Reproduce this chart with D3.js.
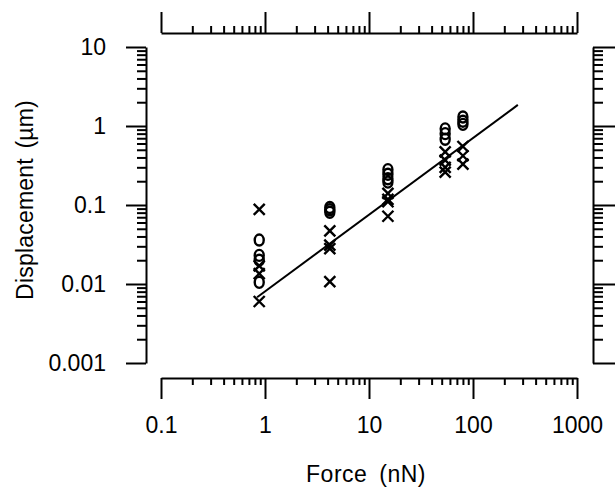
<!DOCTYPE html>
<html>
<head>
<meta charset="utf-8">
<script src="https://cdn.jsdelivr.net/npm/d3@7"></script>
<style>
    body { margin: 0; background: #fff; }
    svg { display: block; }
    text { font-family: "Liberation Sans", Arial, sans-serif; font-size: 23px; fill: #000; }
    .domain, .tick line { stroke: #000; stroke-width: 2; }
</style>
</head>
<body>
<script>
// data: force (nN) columns, displacement (um)
var forces = [0.88, 4.2, 15.2, 54, 80];
var circleDisp = [
    [0.036, 0.023, 0.020, 0.0105],
    [0.093, 0.087, 0.081],
    [0.28, 0.245, 0.215, 0.195],
    [0.92, 0.8, 0.68],
    [1.3, 1.15, 1.05]
];
var crossDisp = [
    [0.088, 0.017, 0.0135, 0.006],
    [0.047, 0.031, 0.028, 0.0107],
    [0.14, 0.118, 0.11, 0.072],
    [0.47, 0.37, 0.3, 0.26],
    [0.55, 0.42, 0.33]
];
var fitForce = [0.84, 270];
var fitDisp = [0.0068, 1.85];
var xTicks = [0.1, 1, 10, 100, 1000];
var xTickLabels = ["0.1", "1", "10", "100", "1000"];
var yTicks = [0.001, 0.01, 0.1, 1, 10];
var yTickLabels = ["0.001", "0.01", "0.1", "1", "10"];

(function() {
    var width = 615, height = 487;

    var svg = d3.select("body").append("svg")
        .attr("width", width)
        .attr("height", height);

    var x = d3.scaleLog().domain([0.1, 1000]).range([161, 577]);
    var y = d3.scaleLog().domain([0.001, 10]).range([363, 47]);

    function minors(lo, hi) {
        var out = [];
        for (var p = lo; p < hi; p *= 10) {
            for (var m = 2; m < 10; m++) out.push(p * m);
        }
        return out;
    }
    var xMinor = minors(0.1, 1000);
    var yMinor = minors(0.001, 10);

    // bottom axis
    var bottom = svg.append("g").attr("transform", "translate(0,378)");
    bottom.call(d3.axisBottom(x).tickValues(xTicks).tickSize(21).tickSizeOuter(0).tickPadding(18)
        .tickFormat(function(d, i) { return xTickLabels[i]; }));
    bottom.append("g").call(d3.axisBottom(x).tickValues(xMinor).tickSize(7).tickFormat(""))
        .select(".domain").remove();

    // top axis
    var top = svg.append("g").attr("transform", "translate(0,33)");
    top.call(d3.axisTop(x).tickValues(xTicks).tickSize(21).tickSizeOuter(0).tickFormat(""));
    top.append("g").call(d3.axisTop(x).tickValues(xMinor).tickSize(7).tickFormat(""))
        .select(".domain").remove();

    // left axis
    var left = svg.append("g").attr("transform", "translate(146,0)");
    left.call(d3.axisLeft(y).tickValues(yTicks).tickSize(20).tickSizeOuter(0).tickPadding(20)
        .tickFormat(function(d, i) { return yTickLabels[i]; }));
    left.append("g").call(d3.axisLeft(y).tickValues(yMinor).tickSize(9).tickFormat(""))
        .select(".domain").remove();

    // right axis
    var right = svg.append("g").attr("transform", "translate(593,0)");
    right.call(d3.axisRight(y).tickValues(yTicks).tickSize(22).tickSizeOuter(0).tickFormat(""));
    right.append("g").call(d3.axisRight(y).tickValues(yMinor).tickSize(10).tickFormat(""))
        .select(".domain").remove();

    svg.selectAll(".tick text").style("font-size", "23px");

    // fit line
    var line = d3.line()
        .x(function(d) { return x(d[0]); })
        .y(function(d) { return y(d[1]); });
    svg.append("path")
        .datum(d3.zip(fitForce, fitDisp))
        .attr("d", line)
        .attr("fill", "none")
        .attr("stroke", "#000")
        .attr("stroke-width", 2);

    // markers
    var circles = [], crosses = [];
    forces.forEach(function(f, i) {
        circleDisp[i].forEach(function(v) { circles.push([f, v]); });
        crossDisp[i].forEach(function(v) { crosses.push([f, v]); });
    });

    svg.selectAll(".circ").data(circles).enter().append("ellipse")
        .attr("class", "circ")
        .attr("cx", function(d) { return x(d[0]); })
        .attr("cy", function(d) { return y(d[1]); })
        .attr("rx", 4.5)
        .attr("ry", 5.5)
        .attr("fill", "none")
        .attr("stroke", "#000")
        .attr("stroke-width", 2.4);

    svg.selectAll(".cross").data(crosses).enter().append("path")
        .attr("class", "cross")
        .attr("transform", function(d) { return "translate(" + x(d[0]) + "," + y(d[1]) + ")"; })
        .attr("d", "M-5.5,-5.5L5.5,5.5M-5.5,5.5L5.5,-5.5")
        .attr("fill", "none")
        .attr("stroke", "#000")
        .attr("stroke-width", 2.4);

    // axis titles
    svg.append("text")
        .attr("x", 366)
        .attr("y", 482)
        .attr("text-anchor", "middle")
        .attr("letter-spacing", "0.5px")
        .attr("word-spacing", "5px")
        .text("Force (nN)");

    svg.append("text")
        .attr("transform", "translate(33,200) rotate(-90)")
        .attr("text-anchor", "middle")
        .attr("letter-spacing", "0.2px")
        .attr("word-spacing", "3px")
        .text("Displacement (µm)");
})();
</script>
</body>
</html>
